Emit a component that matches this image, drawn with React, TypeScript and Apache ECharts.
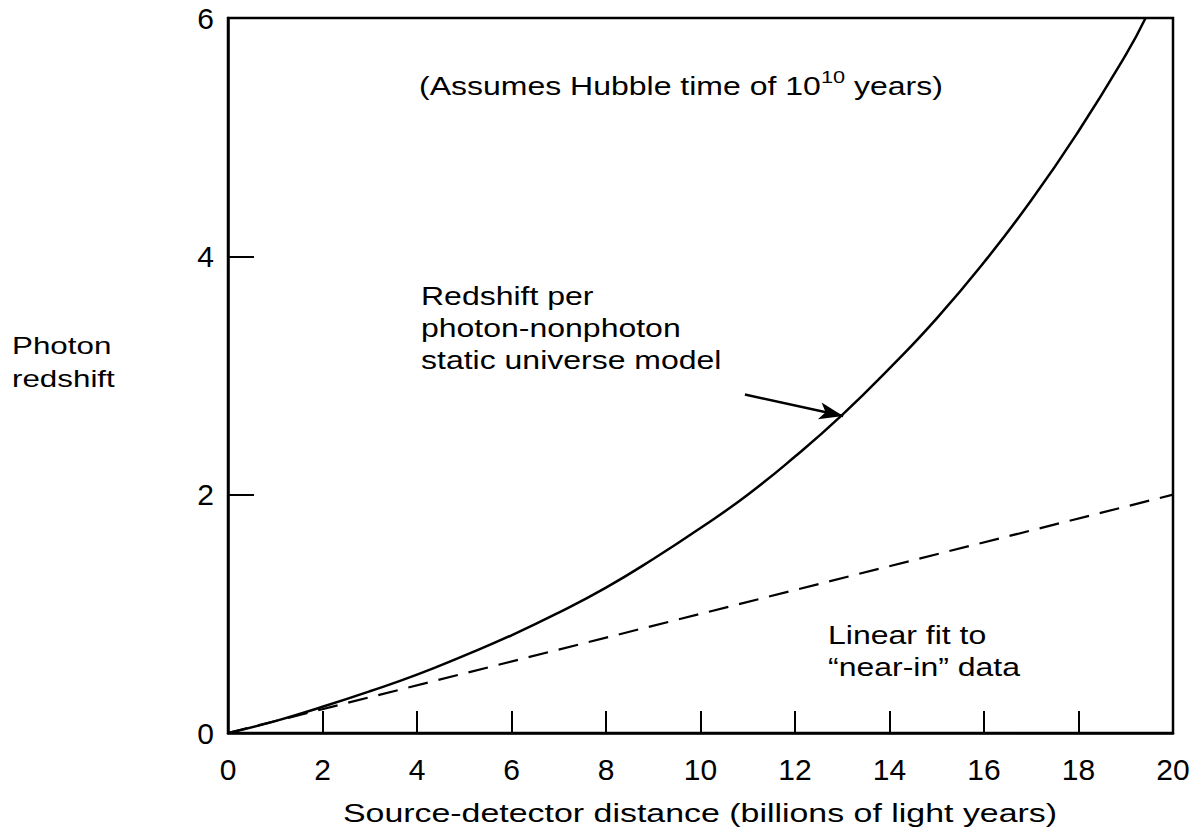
import React, { useEffect, useRef } from "react";
import * as echarts from "echarts";

// Source-detector distance (billions of light years)
const distance = [0, 1, 2, 3, 4, 5, 6, 7, 8, 9, 10, 11, 12, 13, 14, 15, 16, 17, 18, 19, 19.42];
// Photon redshift per photon-nonphoton static universe model
const modelRedshift = [0, 0.1, 0.22, 0.35, 0.49, 0.65, 0.82, 1.01, 1.22, 1.46, 1.72, 2.0, 2.32, 2.67, 3.06, 3.48, 3.95, 4.47, 5.05, 5.69, 6.0];
// Linear fit to "near-in" data
const linearDistance = [0, 20];
const linearRedshift = [0, 2];
// Arrow annotation (data coordinates): from label to curve
const arrowFrom = [10.94, 2.84];
const arrowTo = [13.02, 2.66];

const xTicks = { min: 0, max: 20, interval: 2 };
const yTicks = { min: 0, max: 6, interval: 2 };

const FONT = "'Liberation Sans', Arial, Helvetica, sans-serif";

export default function App() {
  const ref = useRef<HTMLDivElement>(null);
  useEffect(() => {
    if (!ref.current) return;
    const chart = echarts.init(ref.current, undefined, { renderer: "svg" });
    const curve = distance.map((d, i) => [d, modelRedshift[i]]);
    const lin = linearDistance.map((d, i) => [d, linearRedshift[i]]);
    const txt = (x: number, y: number, text: string, size: number, extra: any = {}) => ({
      type: "text",
      x,
      y,
      scaleX: 1.28,
      style: {
        text,
        fill: "#000",
        fontFamily: FONT,
        fontSize: size,
        lineHeight: 32,
        textAlign: "left",
        textVerticalAlign: "top",
        ...extra,
      },
    });
    chart.setOption({
      animation: false,
      backgroundColor: "#fff",
      grid: {
        left: 228,
        right: 28,
        top: 18,
        bottom: 106,
        show: true,
        borderColor: "#000",
        borderWidth: 2.5,
      },
      xAxis: {
        type: "value",
        ...xTicks,
        axisLine: { show: true, lineStyle: { color: "#000", width: 2.5 } },
        axisTick: { show: true, inside: true, length: 22, lineStyle: { color: "#000", width: 2 } },
        axisLabel: { color: "#000", fontSize: 30, fontFamily: FONT, margin: 21 },
        splitLine: { show: false },
      },
      yAxis: {
        type: "value",
        ...yTicks,
        axisLine: { show: true, lineStyle: { color: "#000", width: 2.5 } },
        axisTick: { show: true, inside: true, length: 26, lineStyle: { color: "#000", width: 2 } },
        axisLabel: { color: "#000", fontSize: 30, fontFamily: FONT, margin: 14 },
        splitLine: { show: false },
      },
      series: [
        {
          type: "line",
          data: curve,
          smooth: true,
          showSymbol: false,
          symbol: "none",
          lineStyle: { color: "#000", width: 2.5 },
          markLine: {
            silent: true,
            symbol: ["none", "arrow"],
            symbolSize: [13, 24],
            label: { show: false },
            lineStyle: { color: "#000", width: 2.5, type: "solid" },
            data: [[{ coord: arrowFrom }, { coord: arrowTo }]],
          },
        },
        {
          type: "line",
          data: lin,
          showSymbol: false,
          symbol: "none",
          lineStyle: { color: "#000", width: 2.2, type: [20, 11] },
        },
      ],
      graphic: [
        txt(12, 329, "Photon\nredshift", 24.5, { lineHeight: 33 }),
        txt(421, 280, "Redshift per\nphoton-nonphoton\nstatic universe model", 25),
        txt(828, 619, "Linear fit to\n\u201cnear-in\u201d data", 25),
        {
          type: "text",
          x: 700,
          y: 812,
          scaleX: 1.28,
          style: {
            text: "Source-detector distance (billions of light years)",
            fill: "#000",
            fontFamily: FONT,
            fontSize: 26.5,
            textAlign: "center",
            textVerticalAlign: "middle",
          },
        },
        {
          type: "text",
          x: 419,
          y: 68,
          scaleX: 1.28,
          style: {
            text: "{a|(Assumes Hubble time of 10}{s|10}{a| years)}",
            fill: "#000",
            fontFamily: FONT,
            fontSize: 25,
            textAlign: "left",
            textVerticalAlign: "top",
            rich: {
              a: { fontFamily: FONT, fontSize: 25, lineHeight: 31, verticalAlign: "bottom", fill: "#000" },
              s: { fontFamily: FONT, fontSize: 17, lineHeight: 31, verticalAlign: "top", fill: "#000" },
            },
          },
        },
      ],
    });
    return () => chart.dispose();
  }, []);
  return (
    <div
      ref={ref}
      style={{ position: "fixed", left: 0, top: 0, width: 1201, height: 839, background: "#fff" }}
    />
  );
}
